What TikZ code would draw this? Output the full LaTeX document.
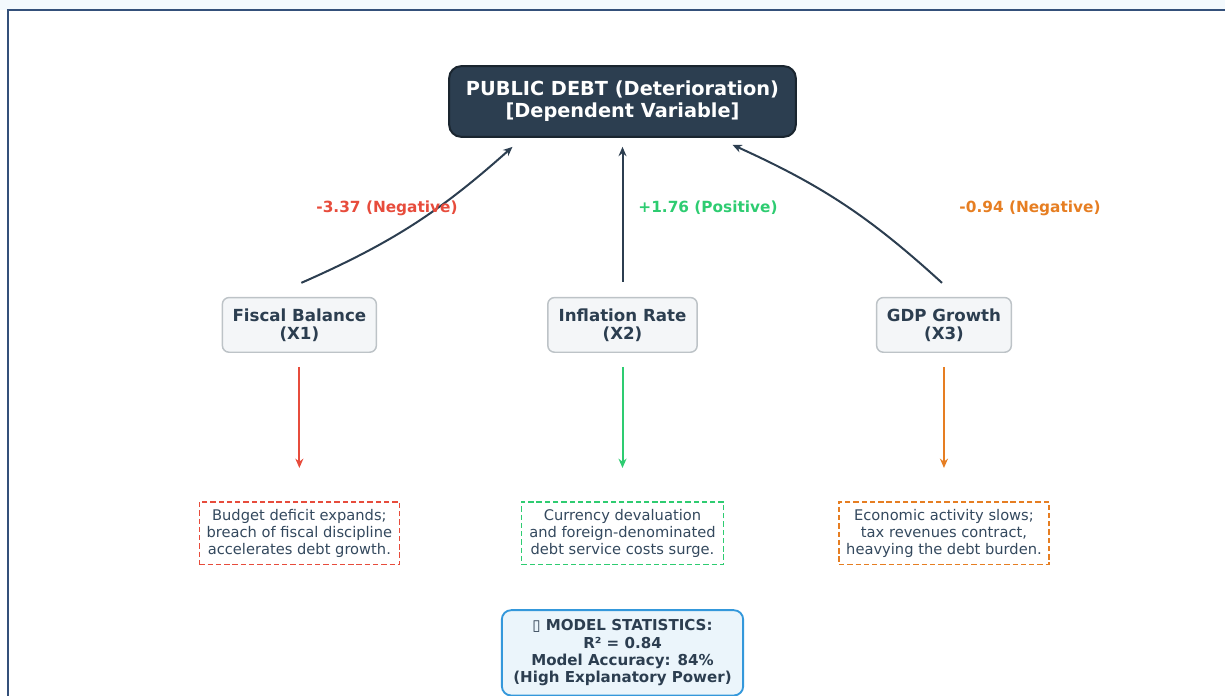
\documentclass[tikz,border=0pt]{standalone}
\usepackage{fontspec}
\setmainfont{DejaVu Sans}
\usepackage{tikz}
\usetikzlibrary{positioning}
\usetikzlibrary{arrows.meta}
\definecolor{navy}{HTML}{2C3E50}
\definecolor{navyline}{HTML}{1A252F}
\definecolor{slate}{HTML}{34495E}
\definecolor{negred}{HTML}{E74C3C}
\definecolor{posgreen}{HTML}{2ECC71}
\definecolor{negorange}{HTML}{E67E22}
\definecolor{boxfill}{HTML}{F4F6F8}
\definecolor{boxline}{HTML}{BDC3C7}
\definecolor{statfill}{HTML}{EBF5FB}
\definecolor{statline}{HTML}{3498DB}
\definecolor{framecol}{HTML}{34507A}
\def\VarGap{119.25pt}
\def\DescGap{111pt}

\tikzset{
  depbox/.style={draw=navyline, line width=1.5pt, fill=navy, rounded corners=9pt,
    minimum width=260pt, minimum height=53pt, inner sep=0pt, align=center,
    text=white, font=\bfseries\fontsize{14.5}{16.5}\selectfont},
  varbox/.style={draw=boxline, line width=1.1pt, fill=boxfill, rounded corners=5pt,
    minimum height=41pt, inner sep=0pt, align=center,
    text=navy, font=\bfseries\fontsize{12.5}{13.5}\selectfont},
  descbox/.style={draw=#1, dash pattern=on 4pt off 2.2pt, line width=1.2pt, fill=white,
    minimum height=47pt, inner sep=0pt, align=center,
    text=slate, font=\fontsize{11}{12.75}\selectfont},
  coef/.style={text=#1, font=\bfseries\fontsize{11.5}{13}\selectfont},
  statbox/.style={draw=statline, line width=1.4pt, fill=statfill, rounded corners=7pt,
    minimum width=181pt, minimum height=64pt, inner sep=0pt, align=center,
    text=navy, font=\bfseries\fontsize{11.3}{13}\selectfont},
  up/.style={draw=navy, line width=1.5pt, -{Stealth[length=7pt,width=6pt]}},
  effect/.style={draw=#1, line width=1.5pt, -{Stealth[length=7pt,width=6pt]},
    shorten <=10.5pt, shorten >=24.75pt},
}

\begin{document}
\begin{tikzpicture}[x=0.75pt,y=-0.75pt]
  \useasboundingbox (0,0) rectangle (1225,696);
  \fill[statfill!60] (0,0) rectangle (1225,10);
  \draw[framecol, line width=1.5pt] (1225,10) -- (8,10) -- (8,696);

  \node[depbox] (debt) at (622.5,101.5) {PUBLIC DEBT (Deterioration)\\{}[Dependent Variable]};
  \node[varbox, minimum width=112pt, below=\VarGap of debt] (inf) {Inflation Rate\\(X2)};
  \node[varbox, minimum width=115.5pt, left=127.5pt of inf] (fis) {Fiscal Balance\\(X1)};
  \node[varbox, minimum width=101pt, right=133.5pt of inf] (gdp) {GDP Growth\\(X3)};

  \node[descbox=negred, minimum width=150pt, below=\DescGap of fis] (fisd)
    {Budget deficit expands;\\breach of fiscal discipline\\accelerates debt growth.};
  \node[descbox=posgreen, minimum width=151.5pt, below=\DescGap of inf] (infd)
    {Currency devaluation\\and foreign-denominated\\debt service costs surge.};
  \node[descbox=negorange, minimum width=157.5pt, below=\DescGap of gdp] (gdpd)
    {Economic activity slows;\\tax revenues contract,\\heavying the debt burden.};

  \node[statbox, below=33pt of infd] (stats)
    {▯ MODEL STATISTICS:\\R² = 0.84\\Model Accuracy: 84\%\\(High Explanatory Power)};

  % links to the dependent variable
  \draw[up] ([shift={(2,-14)}]fis.north) to[bend right=9] ([shift={(-110,9)}]debt.south);
  \draw[up] ([shift={(0,-15)}]inf.north) -- ([shift={(0,9)}]debt.south);
  \draw[up] ([shift={(-2,-14)}]gdp.north) to[bend right=9] ([shift={(110,7)}]debt.south);

  \node[coef=negred] (cfis) at (387,208) {-3.37 (Negative)};
  \node[coef=posgreen] (cinf) at (708,208) {+1.76 (Positive)};
  \node[coef=negorange] (cgdp) at (1030,208) {-0.94 (Negative)};

  \draw[effect=negred] (fis) -- (fisd);
  \draw[effect=posgreen] (inf) -- (infd);
  \draw[effect=negorange] (gdp) -- (gdpd);
\end{tikzpicture}
\end{document}
